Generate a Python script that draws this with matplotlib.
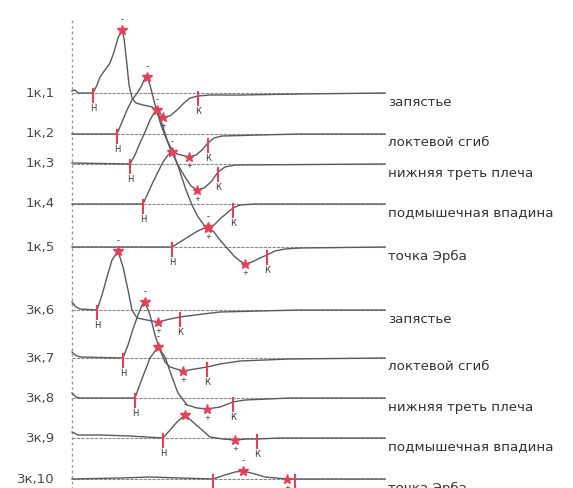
"""Nerve conduction waveforms: stacked traces with onset / peak / end markers."""

import matplotlib

matplotlib.use("Agg")
import matplotlib.pyplot as plt

# time in ms, amplitude in mV (relative to each trace's own baseline)
ROW_LABELS = ["1к,1", "1к,2", "1к,3", "1к,4", "1к,5", "3к,6", "3к,7", "3к,8", "3к,9", "3к,10"]
SITE_LABELS = [
    "запястье", "локтевой сгиб", "нижняя треть плеча", "подмышечная впадина", "точка Эрба",
    "запястье", "локтевой сгиб", "нижняя треть плеча", "подмышечная впадина", "точка Эрба",
]

T1_TIME = [0, 0.3, 0.6, 2.1, 2.5, 2.8, 3.3, 3.8, 4.2, 4.6, 5.0, 5.2, 5.5, 5.7, 6.0, 6.4, 7.1, 8.0, 8.6, 9.1,
           9.8, 10.5, 11.2, 11.8, 12.6, 13.8, 16.8, 22.8, 31.3]
T1_AMP = [0.2, 0.3, 0.0, 0.0, 0.8, 1.6, 2.3, 3.0, 4.1, 5.5, 6.3, 5.5, 2.8, 0.8, -0.5, -1.0, -1.2, -1.4, -1.8, -2.4,
          -2.3, -1.7, -1.0, -0.5, -0.3, -0.2, -0.2, -0.1, 0.0]

T2_TIME = [0, 4.5, 5.0, 5.5, 6.0, 6.6, 7.0, 7.3, 7.5, 7.8, 8.1, 8.5, 8.9, 9.4, 9.9, 10.5, 11.7, 12.4, 13.0,
           13.6, 14.2, 15.0, 18.8, 22.8, 31.3]
T2_AMP = [0, 0, 1.2, 2.4, 3.4, 4.2, 4.9, 5.6, 5.7, 4.9, 3.7, 2.2, 0.9, -0.4, -1.4, -2.0, -2.3, -2.1, -1.6,
          -0.9, -0.4, -0.2, -0.1, 0, 0]

T3_TIME = [0, 5.8, 6.3, 6.8, 7.3, 7.8, 8.2, 8.5, 8.8, 9.2, 9.6, 10.0, 10.6, 11.3, 11.9, 12.5, 13.2, 13.9, 14.6,
           15.3, 16.3, 31.3]
T3_AMP = [0.1, 0, 0.9, 2.1, 3.2, 4.4, 5.1, 5.4, 4.6, 3.4, 2.1, 1.1, -0.1, -1.3, -2.2, -2.6, -2.4, -1.8, -0.8,
          -0.3, -0.1, 0]

T4_TIME = [0, 7.1, 7.6, 8.1, 8.6, 9.1, 9.6, 10.0, 10.4, 10.9, 11.4, 12.0, 12.6, 13.2, 13.6, 14.2, 14.9, 15.5,
           16.1, 16.8, 18.3, 31.3]
T4_AMP = [0, 0, 1.1, 2.2, 3.2, 4.2, 4.9, 5.2, 4.4, 2.9, 1.4, -0.1, -1.3, -2.1, -2.4, -2.1, -1.4, -0.9,
          -0.4, -0.1, 0, 0]

T5_TIME = [0, 10.0, 10.8, 11.6, 12.4, 13.0, 13.6, 14.2, 14.8, 15.5, 16.2, 16.8, 17.3, 18.0, 18.8, 19.5, 20.3,
           21.3, 22.8, 31.3]
T5_AMP = [0, 0, 0.5, 1.0, 1.5, 1.8, 2.0, 1.5, 0.7, -0.1, -0.9, -1.4, -1.7, -1.5, -1.1, -0.8, -0.4,
          -0.2, -0.1, 0]

T6_TIME = [0, 0.4, 0.8, 2.5, 3.0, 3.5, 4.0, 4.6, 5.1, 5.6, 6.0, 6.5, 7.5, 8.6, 9.8, 10.8, 13.1, 14.8, 22.8, 31.3]
T6_AMP = [0.8, 0.3, 0.1, 0, 1.5, 3.3, 5.0, 5.9, 4.3, 2.0, 0, -0.8, -1.0, -1.2, -0.9, -0.7, -0.4, -0.2, 0, 0]

T7_TIME = [0, 0.3, 0.8, 5.1, 5.6, 6.1, 6.6, 7.0, 7.3, 7.8, 8.3, 8.8, 9.3, 9.8, 11.1, 12.3, 13.5, 14.8, 16.8,
           21.8, 31.3]
T7_AMP = [0.6, 0.3, 0.1, 0, 1.3, 2.9, 4.3, 5.3, 5.6, 4.3, 2.3, 0.8, -0.4, -0.9, -1.3, -1.1, -0.9, -0.6, -0.3,
          -0.1, 0]

T8_TIME = [0, 0.4, 0.8, 6.3, 6.8, 7.3, 7.8, 8.6, 9.3, 10.0, 10.6, 11.5, 12.5, 13.5, 14.8, 16.1, 17.3, 21.8, 31.3]
T8_AMP = [0.5, 0.1, 0, 0, 1.4, 2.7, 4.0, 5.1, 4.1, 2.1, 0.5, -0.7, -1.0, -1.1, -0.9, -0.4, -0.2, 0, 0]

T9_TIME = [0, 0.6, 2.8, 5.8, 9.1, 9.8, 10.5, 11.3, 12.1, 13.0, 13.8, 15.1, 16.3, 17.5, 18.5, 20.8, 31.3]
T9_AMP = [0.6, 0.3, 0.3, 0.2, 0, 0.8, 1.6, 2.3, 1.6, 0.8, 0.1, -0.1, -0.2, -0.1, -0.1, 0, 0]

T10_TIME = [0, 4.8, 7.8, 10.8, 14.1, 15.3, 16.3, 17.1, 18.3, 19.3, 21.5, 22.3, 31.3]
T10_AMP = [0, 0.1, 0.2, 0.1, 0, 0.4, 0.7, 0.8, 0.5, 0.2, 0, 0, 0]

# markers: onset (Н), negative peak, positive peak, end (К)
ONSET_T = [2.1, 4.5, 5.8, 7.1, 10.0, 2.5, 5.1, 6.3, 9.1, 14.1]
PEAK_T = [5.0, 7.5, 8.5, 10.0, 13.6, 4.6, 7.3, 8.6, 11.3, 17.1]
PEAK_A = [6.3, 5.7, 5.4, 5.2, 2.0, 5.9, 5.6, 5.1, 2.3, 0.8]
TROUGH_T = [9.1, 11.7, 12.5, 13.6, 17.3, 8.6, 11.1, 13.5, 16.3, 21.5]
TROUGH_A = [-2.4, -2.3, -2.6, -2.4, -1.7, -1.2, -1.3, -1.1, -0.2, 0.0]
END_T = [12.6, 13.6, 14.6, 16.1, 19.5, 10.8, 13.5, 16.1, 18.5, 22.3]
END_A = [-0.3, -0.9, -0.8, -0.4, -0.8, -0.7, -0.9, -0.4, -0.1, 0.0]

# vertical placement of each trace (stacking offset)
OFFSETS = [-9.3, -13.4, -16.4, -20.4, -24.7, -31.0, -35.8, -39.8, -43.8, -47.9]

RED = "#e3405a"


def main() -> None:
    traces = [
        (T1_TIME, T1_AMP), (T2_TIME, T2_AMP), (T3_TIME, T3_AMP), (T4_TIME, T4_AMP), (T5_TIME, T5_AMP),
        (T6_TIME, T6_AMP), (T7_TIME, T7_AMP), (T8_TIME, T8_AMP), (T9_TIME, T9_AMP), (T10_TIME, T10_AMP),
    ]

    fig = plt.figure(figsize=(5.73, 4.88), dpi=100)
    ax = fig.add_axes([0, 0, 1, 1])
    ax.set_xlim(-7.2, 50.1)
    ax.set_ylim(-48.8, 0)
    ax.axis("off")

    ax.plot([0, 0], [-2.0, -48.8], color="#9a9a9a", lw=1.0, ls=(0, (2, 2)))

    for i, (t, a) in enumerate(traces):
        off = OFFSETS[i]
        ax.plot([0, 31.3], [off, off], color="#8a8a8a", lw=0.8, ls=(0, (3, 1)), zorder=1)
        ax.plot(t, [off + v for v in a], color="#5a5a5a", lw=1.0, zorder=2)

        ax.text(-1.7, off, ROW_LABELS[i], ha="right", va="center", fontsize=9.5, color="#4a4a4a")
        ax.text(31.6, off - 0.9, SITE_LABELS[i], ha="left", va="center", fontsize=9.6, color="#333333")

        # onset / end ticks
        for tt, aa, lab in ((ONSET_T[i], 0.0, "Н"), (END_T[i], END_A[i], "К")):
            ax.plot([tt, tt], [off + aa + 0.4, off + aa - 0.9], color=RED, lw=1.5, zorder=3)
            ax.text(tt, off + aa - 1.55, lab, ha="center", va="center", fontsize=6, color="#333333")

        ax.plot(PEAK_T[i], off + PEAK_A[i], marker="*", ms=7.5, color=RED, mec=RED, zorder=4)
        ax.text(PEAK_T[i], off + PEAK_A[i] + 1.0, "-", ha="center", va="center", fontsize=6, color="#333333")

        ax.plot(TROUGH_T[i], off + TROUGH_A[i], marker="*", ms=6.5, color=RED, mec=RED, zorder=4)
        ax.text(TROUGH_T[i], off + TROUGH_A[i] - 0.85, "+", ha="center", va="center", fontsize=5,
                color="#333333")

    fig.savefig("out.png", dpi=100)
    plt.close(fig)


if __name__ == "__main__":
    main()
